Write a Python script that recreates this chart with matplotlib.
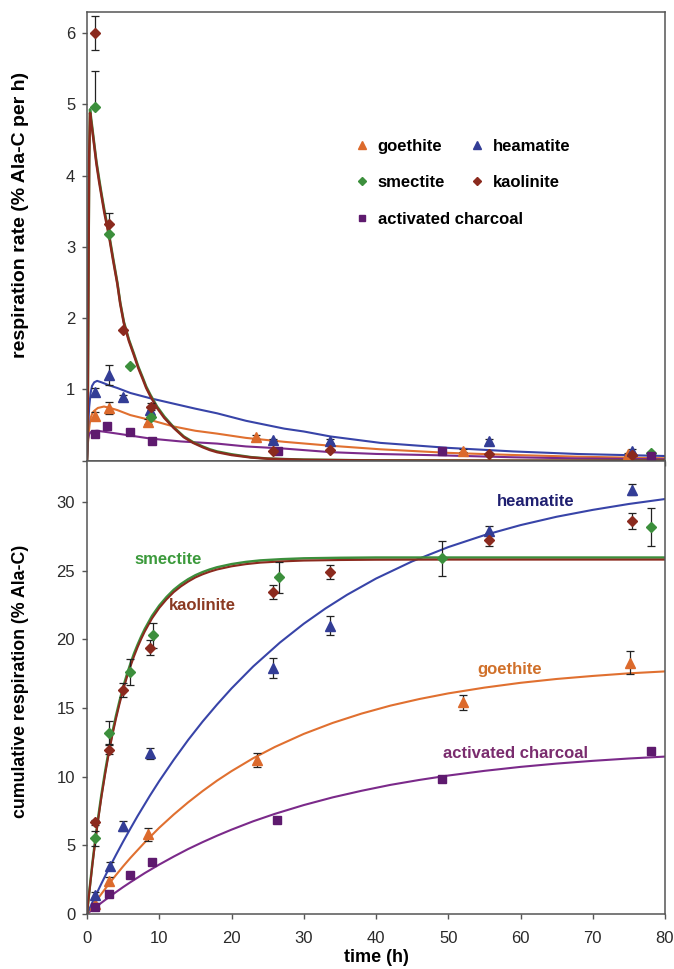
import numpy as np
import matplotlib
matplotlib.use("Agg")
import matplotlib.pyplot as plt

plt.rcParams['font.family'] = ['Liberation Sans', 'DejaVu Sans']

# colours
c_goe = '#dc6a2c'
c_hem = '#333d96'
c_sme = '#3c8f3c'
c_kao = '#8b2a1e'
c_cha = '#5e1a6e'

# ---- respiration rate (top), measured points ----
goe_rt = [1.1, 3.1, 8.5, 23.4, 52, 74.9]
goe_rv = [0.63, 0.74, 0.55, 0.33, 0.14, 0.09]
goe_re = [0.05, 0.09, 0.03, 0.03, 0.02, 0.02]

hem_rt = [1.1, 3.05, 5.0, 8.7, 25.8, 33.7, 55.7, 75.4]
hem_rv = [0.97, 1.20, 0.89, 0.71, 0.29, 0.28, 0.27, 0.13]
hem_re = [0.05, 0.14, 0.03, 0.05, 0.02, 0.03, 0.03, 0.03]

sme_rt = [1.1, 3.1, 5.95, 8.8, 78.1]
sme_rv = [4.96, 3.18, 1.33, 0.61, 0.11]
sme_re_lo = [0, 0, 0, 0, 0]
sme_re_hi = [0.51, 0, 0, 0, 0]

kao_rt = [1.1, 3.1, 5.0, 8.8, 25.7, 33.7, 55.7, 75.4]
kao_rv = [6.0, 3.32, 1.83, 0.76, 0.14, 0.15, 0.094, 0.08]
kao_re = [0.24, 0.15, 0, 0.05, 0, 0, 0, 0]

cha_rt = [1.1, 2.8, 5.95, 9.05, 26.4, 49.1, 78.1]
cha_rv = [0.38, 0.49, 0.40, 0.28, 0.14, 0.14, 0.07]

# ---- respiration rate, fitted curves ----
sme_ft = [0, 0.1, 0.2, 0.3, 0.42, 0.7, 1.0, 1.3, 1.7, 2.0, 2.4, 2.7, 3.1, 3.6, 4.2, 4.6, 5.1, 5.8,
          6.5, 7.1, 7.7, 8.2, 8.8, 9.7, 10.7, 12, 13.4, 14.7, 16, 17, 18, 20, 22.7, 25, 30, 40, 60, 80]
sme_fv = [0, 0.6, 2.5, 4.2, 4.93, 4.7, 4.45, 4.2, 3.94, 3.75, 3.52, 3.36, 3.15, 2.85, 2.5, 2.22, 1.95, 1.7,
          1.5, 1.32, 1.17, 1.04, 0.92, 0.76, 0.62, 0.47, 0.34, 0.26, 0.2, 0.16, 0.13, 0.09, 0.05, 0.03, 0.015, 0.004, 0.0, 0.0]
kao_ft = sme_ft
kao_fv = [0, 0.7, 2.6, 4.25, 4.88, 4.66, 4.42, 4.17, 3.9, 3.72, 3.48, 3.33, 3.12, 2.82, 2.48, 2.2, 1.93, 1.68,
          1.48, 1.3, 1.15, 1.02, 0.9, 0.74, 0.6, 0.46, 0.33, 0.25, 0.19, 0.15, 0.12, 0.08, 0.045, 0.028, 0.012, 0.003, 0.0, 0.0]
hem_ft = [0, 0.15, 0.3, 0.5, 0.7, 1.0, 1.4, 2, 3, 4.2, 6, 8.8, 12, 15, 18, 22, 27.3, 30, 33.7, 40.6, 50, 59, 68, 80]
hem_fv = [0, 0.45, 0.75, 0.95, 1.05, 1.1, 1.12, 1.1, 1.06, 1.02, 0.95, 0.875, 0.8, 0.73, 0.665, 0.56, 0.45, 0.41, 0.34, 0.25, 0.18, 0.13, 0.094, 0.066]
goe_ft = [0, 0.1, 0.2, 0.35, 0.5, 0.75, 1, 1.5, 2.35, 3.2, 4.2, 6, 8.8, 12, 15, 18, 22, 27.3, 33.7, 40.6, 50, 59, 68, 80]
goe_fv = [0, 0.2, 0.35, 0.5, 0.6, 0.67, 0.7, 0.74, 0.76, 0.74, 0.71, 0.64, 0.57, 0.48, 0.42, 0.38, 0.32, 0.265, 0.21, 0.16, 0.11, 0.08, 0.056, 0.034]
cha_ft = [0, 0.1, 0.15, 0.3, 0.5, 0.9, 1.4, 2.5, 4.2, 6.5, 8.8, 13, 18, 22, 27.3, 33.7, 40, 49, 59, 68, 80]
cha_fv = [0, 0.2, 0.3, 0.37, 0.4, 0.415, 0.42, 0.405, 0.38, 0.345, 0.31, 0.27, 0.24, 0.2, 0.17, 0.12, 0.095, 0.075, 0.048, 0.032, 0.02]

# ---- cumulative respiration (bottom), measured points ----
goe_ct = [1.1, 3.1, 8.5, 23.5, 52, 75.1]
goe_cv = [0.7, 2.4, 5.8, 11.2, 15.4, 18.3]
goe_ce = [0.1, 0.3, 0.49, 0.49, 0.56, 0.84]

hem_ct = [1.1, 3.2, 5.0, 8.7, 25.7, 33.7, 55.7, 75.4]
hem_cv = [1.39, 3.5, 6.4, 11.7, 17.9, 21.0, 27.9, 30.9]
hem_ce = [0.2, 0.3, 0.36, 0.42, 0.73, 0.72, 0.32, 0.4]

sme_ct = [1.1, 3.1, 5.95, 9.1, 26.6, 49.2, 78.1]
sme_cv = [5.5, 13.2, 17.6, 20.3, 24.5, 25.9, 28.2]
sme_ce = [0.55, 0.84, 0.93, 0.9, 1.15, 1.28, 1.38]

kao_ct = [1.1, 3.1, 5.0, 8.7, 25.7, 33.7, 55.7, 75.4]
kao_cv = [6.67, 11.97, 16.3, 19.4, 23.45, 24.9, 27.25, 28.6]
kao_ce = [0.2, 0.3, 0.53, 0.58, 0.51, 0.5, 0.46, 0.57]

cha_ct = [1.1, 3.1, 5.95, 9.05, 26.3, 49.2, 78.1]
cha_cv = [0.5, 1.45, 2.85, 3.8, 6.86, 9.83, 11.9]

# ---- cumulative respiration, fitted curves ----
smk_t = [0, 0.25, 0.5, 0.75, 1, 1.5, 2, 2.5, 3, 3.5, 4, 4.5, 5, 5.5, 6, 6.5, 7, 7.5, 8, 9, 10,
         11, 12, 13, 14, 15, 16, 17, 18, 20, 22, 24, 27, 30, 35, 40, 50, 60, 80]
sme_cf = [0, 1.3, 2.5, 3.7, 4.8, 6.85, 8.7, 10.35, 11.85, 13.2, 14.4, 15.5, 16.5, 17.4, 18.2, 18.95, 19.6,
          20.2, 20.75, 21.7, 22.45, 23.07, 23.6, 24.02, 24.37, 24.66, 24.89, 25.08, 25.24, 25.47, 25.63,
          25.74, 25.83, 25.89, 25.93, 25.95, 25.95, 25.95, 25.95]
kao_cf = [0, 1.25, 2.42, 3.6, 4.68, 6.7, 8.52, 10.15, 11.65, 13.0, 14.2, 15.3, 16.3, 17.2, 18.0, 18.75, 19.42,
          20.02, 20.57, 21.52, 22.28, 22.9, 23.43, 23.85, 24.2, 24.5, 24.73, 24.92, 25.08, 25.31, 25.47,
          25.58, 25.67, 25.73, 25.77, 25.79, 25.8, 25.8, 25.8]
hem_cft = [0, 1, 2, 3, 4, 5, 6, 7, 8.7, 10, 12, 14, 16, 18, 20, 23, 26.7, 30, 33, 36, 40, 45, 50,
           55, 60, 65, 70, 75, 80]
hem_cf = [0, 1.13, 2.22, 3.28, 4.29, 5.27, 6.21, 7.13, 8.61, 9.68, 11.22, 12.67, 14.01, 15.25, 16.42,
          18.02, 19.76, 21.13, 22.24, 23.24, 24.42, 25.67, 26.71, 27.58, 28.31, 28.92, 29.42, 29.85, 30.21]
goe_cft = [0, 1, 2, 3, 4, 5, 6, 8, 10, 12, 14, 16, 18, 20, 23, 26, 30, 34, 38, 42, 46, 50, 55, 60,
           65, 70, 75, 80]
goe_cf = [0, 0.75, 1.47, 2.17, 2.83, 3.47, 4.08, 5.22, 6.28, 7.24, 8.13, 8.95, 9.71, 10.4, 11.34,
          12.16, 13.11, 13.91, 14.59, 15.17, 15.65, 16.06, 16.48, 16.83, 17.11, 17.33, 17.52, 17.66]
cha_cft = [0, 1, 2, 3, 4, 5, 6, 8, 10, 12, 14, 16, 18, 20, 23, 26, 30, 34, 38, 42, 46, 50, 55, 60,
           65, 70, 75, 80]
cha_cf = [0, 0.42, 0.82, 1.21, 1.59, 1.96, 2.31, 2.98, 3.6, 4.18, 4.73, 5.23, 5.7, 6.14, 6.75, 7.29,
          7.93, 8.49, 8.97, 9.4, 9.76, 10.08, 10.42, 10.71, 10.95, 11.15, 11.32, 11.46]

x_ticks = list(range(0, 81, 10))
rate_ticks = [0, 1, 2, 3, 4, 5, 6]
rate_ticklabels = ['', '1', '2', '3', '4', '5', '6']
cum_ticks = [0, 5, 10, 15, 20, 25, 30]

W, H = 674, 969
fig = plt.figure(figsize=(W / 100, H / 100), dpi=100)
L, R = 87, 665
ax1 = fig.add_axes([L / W, 1 - 460.7 / H, (R - L) / W, 449 / H])
ax2 = fig.add_axes([L / W, 1 - 914 / H, (R - L) / W, 453.3 / H])

spine_c = '#555555'
for ax in (ax1, ax2):
    ax.set_xlim(0, 80)
    ax.set_xticks(x_ticks)
    for s in ax.spines.values():
        s.set_color(spine_c)
        s.set_linewidth(1.1)
    ax.tick_params(direction='out', length=3.5, width=1, color=spine_c, pad=5,
                   labelsize=12, labelcolor='#2a2a2a')
ax2.tick_params(axis='x', pad=9)

ebkw = dict(fmt='none', ecolor='#222222', elinewidth=0.9, capsize=3, capthick=0.9, zorder=3)
ms_tri, ms_dia, ms_sq = 6.5, 4.7, 5.8

# top panel
ax1.plot(goe_ft, goe_fv, color='#e07030', lw=1.5, zorder=2)
ax1.plot(cha_ft, cha_fv, color='#7b2a8a', lw=1.5, zorder=2)
ax1.plot(hem_ft, hem_fv, color='#3844a8', lw=1.5, zorder=2)
ax1.plot(sme_ft, sme_fv, color=c_sme, lw=1.8, zorder=2)
ax1.plot(kao_ft, kao_fv, color=c_kao, lw=1.8, zorder=2)

ax1.errorbar(goe_rt, goe_rv, yerr=goe_re, **ebkw)
ax1.errorbar(hem_rt, hem_rv, yerr=hem_re, **ebkw)
ax1.errorbar(sme_rt, sme_rv, yerr=[sme_re_lo, sme_re_hi], **ebkw)
ax1.errorbar(kao_rt, kao_rv, yerr=kao_re, **ebkw)

h_goe, = ax1.plot(goe_rt, goe_rv, '^', color=c_goe, ms=ms_tri, ls='none', zorder=4)
h_hem, = ax1.plot(hem_rt, hem_rv, '^', color=c_hem, ms=ms_tri, ls='none', zorder=4)
h_sme, = ax1.plot(sme_rt, sme_rv, 'D', color=c_sme, ms=ms_dia, ls='none', zorder=4)
h_kao, = ax1.plot(kao_rt, kao_rv, 'D', color=c_kao, ms=ms_dia, ls='none', zorder=5)
h_cha, = ax1.plot(cha_rt, cha_rv, 's', color=c_cha, ms=ms_sq, ls='none', zorder=4)

ax1.set_ylim(0, 6.3)
ax1.set_yticks(rate_ticks)
ax1.set_yticklabels(rate_ticklabels)
ax1.set_xticklabels([])
ax1.set_ylabel('respiration rate (% Ala-C per h)', fontsize=14, fontweight='bold')
ax1.yaxis.set_label_coords(-0.1, 0.548)

legkw = dict(frameon=False, handlelength=1.0, handletextpad=0.45,
             borderpad=0, borderaxespad=0, markerscale=0.85, loc='upper left',
             prop={'weight': 'bold', 'size': 12})
leg1 = ax1.legend([h_goe, h_sme, h_hem, h_kao], ['goethite', 'smectite', 'heamatite', 'kaolinite'],
                  ncol=2, columnspacing=1.4, labelspacing=1.25,
                  bbox_to_anchor=(0.461, 0.716), **legkw)
ax1.add_artist(leg1)
ax1.legend([h_cha], ['activated charcoal'], bbox_to_anchor=(0.461, 0.554), **legkw)

# bottom panel
ax2.plot(cha_cft, cha_cf, color='#7b2a8a', lw=1.5, zorder=2)
ax2.plot(goe_cft, goe_cf, color='#e07030', lw=1.5, zorder=2)
ax2.plot(hem_cft, hem_cf, color='#3844a8', lw=1.5, zorder=2)
ax2.plot(smk_t, sme_cf, color=c_sme, lw=1.8, zorder=2)
ax2.plot(smk_t, kao_cf, color=c_kao, lw=1.5, zorder=2)

ax2.errorbar(goe_ct, goe_cv, yerr=goe_ce, **ebkw)
ax2.errorbar(hem_ct, hem_cv, yerr=hem_ce, **ebkw)
ax2.errorbar(sme_ct, sme_cv, yerr=sme_ce, **ebkw)
ax2.errorbar(kao_ct, kao_cv, yerr=kao_ce, **ebkw)

ax2.plot(goe_ct, goe_cv, '^', color=c_goe, ms=ms_tri, ls='none', zorder=4)
ax2.plot(hem_ct, hem_cv, '^', color=c_hem, ms=ms_tri, ls='none', zorder=4)
ax2.plot(sme_ct, sme_cv, 'D', color=c_sme, ms=ms_dia, ls='none', zorder=4)
ax2.plot(kao_ct, kao_cv, 'D', color=c_kao, ms=ms_dia, ls='none', zorder=4)
ax2.plot(cha_ct, cha_cv, 's', color=c_cha, ms=ms_sq, ls='none', zorder=4)

tkw = dict(fontsize=12, fontweight='bold', ha='center', va='center')
ax2.text(11.2, 25.8, 'smectite', color='#3c9a3c', **tkw)
ax2.text(16.0, 22.45, 'kaolinite', color='#8b3a22', **tkw)
ax2.text(62.1, 30.0, 'heamatite', color='#1f1f70', **tkw)
ax2.text(58.5, 17.8, 'goethite', color='#d0702a', **tkw)
ax2.text(59.3, 11.7, 'activated charcoal', color='#7a2c6e', **tkw)

ax2.set_ylim(0, 33)
ax2.set_yticks(cum_ticks)
ax2.set_ylabel('cumulative respiration (% Ala-C)', fontsize=12.8, fontweight='bold')
ax2.yaxis.set_label_coords(-0.1, 0.513)
ax2.set_xlabel('time (h)', fontsize=13, fontweight='bold', labelpad=2)

fig.savefig('out.png', dpi=100)
